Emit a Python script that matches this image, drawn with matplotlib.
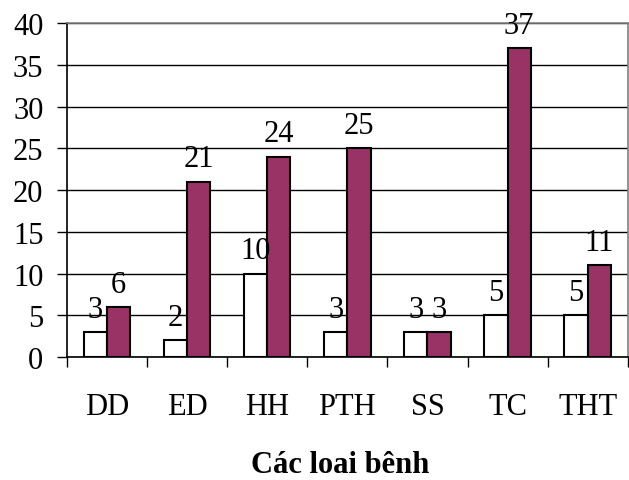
import numpy as np
import matplotlib.pyplot as plt

categories = ["DD", "ED", "HH", "PTH", "SS", "TC", "THT"]
series_a = [3, 2, 10, 3, 3, 5, 5]
series_b = [6, 21, 24, 25, 3, 37, 11]
x_label = "Các loai bênh"

plt.rcParams["font.family"] = ["Liberation Serif", "DejaVu Serif"]

fig = plt.figure(figsize=(6.29, 4.81), dpi=100)
ax = fig.add_axes([0.1065, 0.2557, 0.8915, 0.6943])

x = np.arange(len(categories))
w = 0.29
ax.bar(x - w / 2, series_a, w, color="white", edgecolor="black", linewidth=1.5, zorder=3)
ax.bar(x + w / 2, series_b, w, color="#993366", edgecolor="black", linewidth=1.5, zorder=3)

for xi, a, b in zip(x, series_a, series_b):
    ax.annotate(str(a), (xi - w / 2, a), xytext=(0, 6), textcoords="offset points",
                ha="center", va="bottom", fontsize=22)
    ax.annotate(str(b), (xi + w / 2, b), xytext=(0, 6), textcoords="offset points",
                ha="center", va="bottom", fontsize=22)

ax.set_xlim(-0.5, len(categories) - 0.5)
ax.set_ylim(0, 40)
ax.set_yticks(range(0, 41, 5))
ax.yaxis.grid(True, color="black", linewidth=1)
ax.set_axisbelow(True)

ax.set_xticks(np.arange(-0.5, len(categories), 1.0), minor=False)
ax.set_xticklabels([])
ax.set_xticks(x, minor=True)
ax.set_xticklabels(categories, minor=True, fontsize=22)
ax.tick_params(axis="x", which="minor", length=0, pad=25)
ax.tick_params(axis="x", which="major", length=7, width=1, direction="out")
ax.tick_params(axis="y", length=7, width=1, labelsize=22, pad=10)

ax.spines["top"].set_color("#808080")
ax.spines["right"].set_color("#808080")
for s in ax.spines.values():
    s.set_linewidth(1.2)

ax.set_xlabel(x_label, fontsize=22, fontweight="bold")
ax.xaxis.set_label_coords(0.487, -0.277)

fig.savefig("out.png", dpi=100)
